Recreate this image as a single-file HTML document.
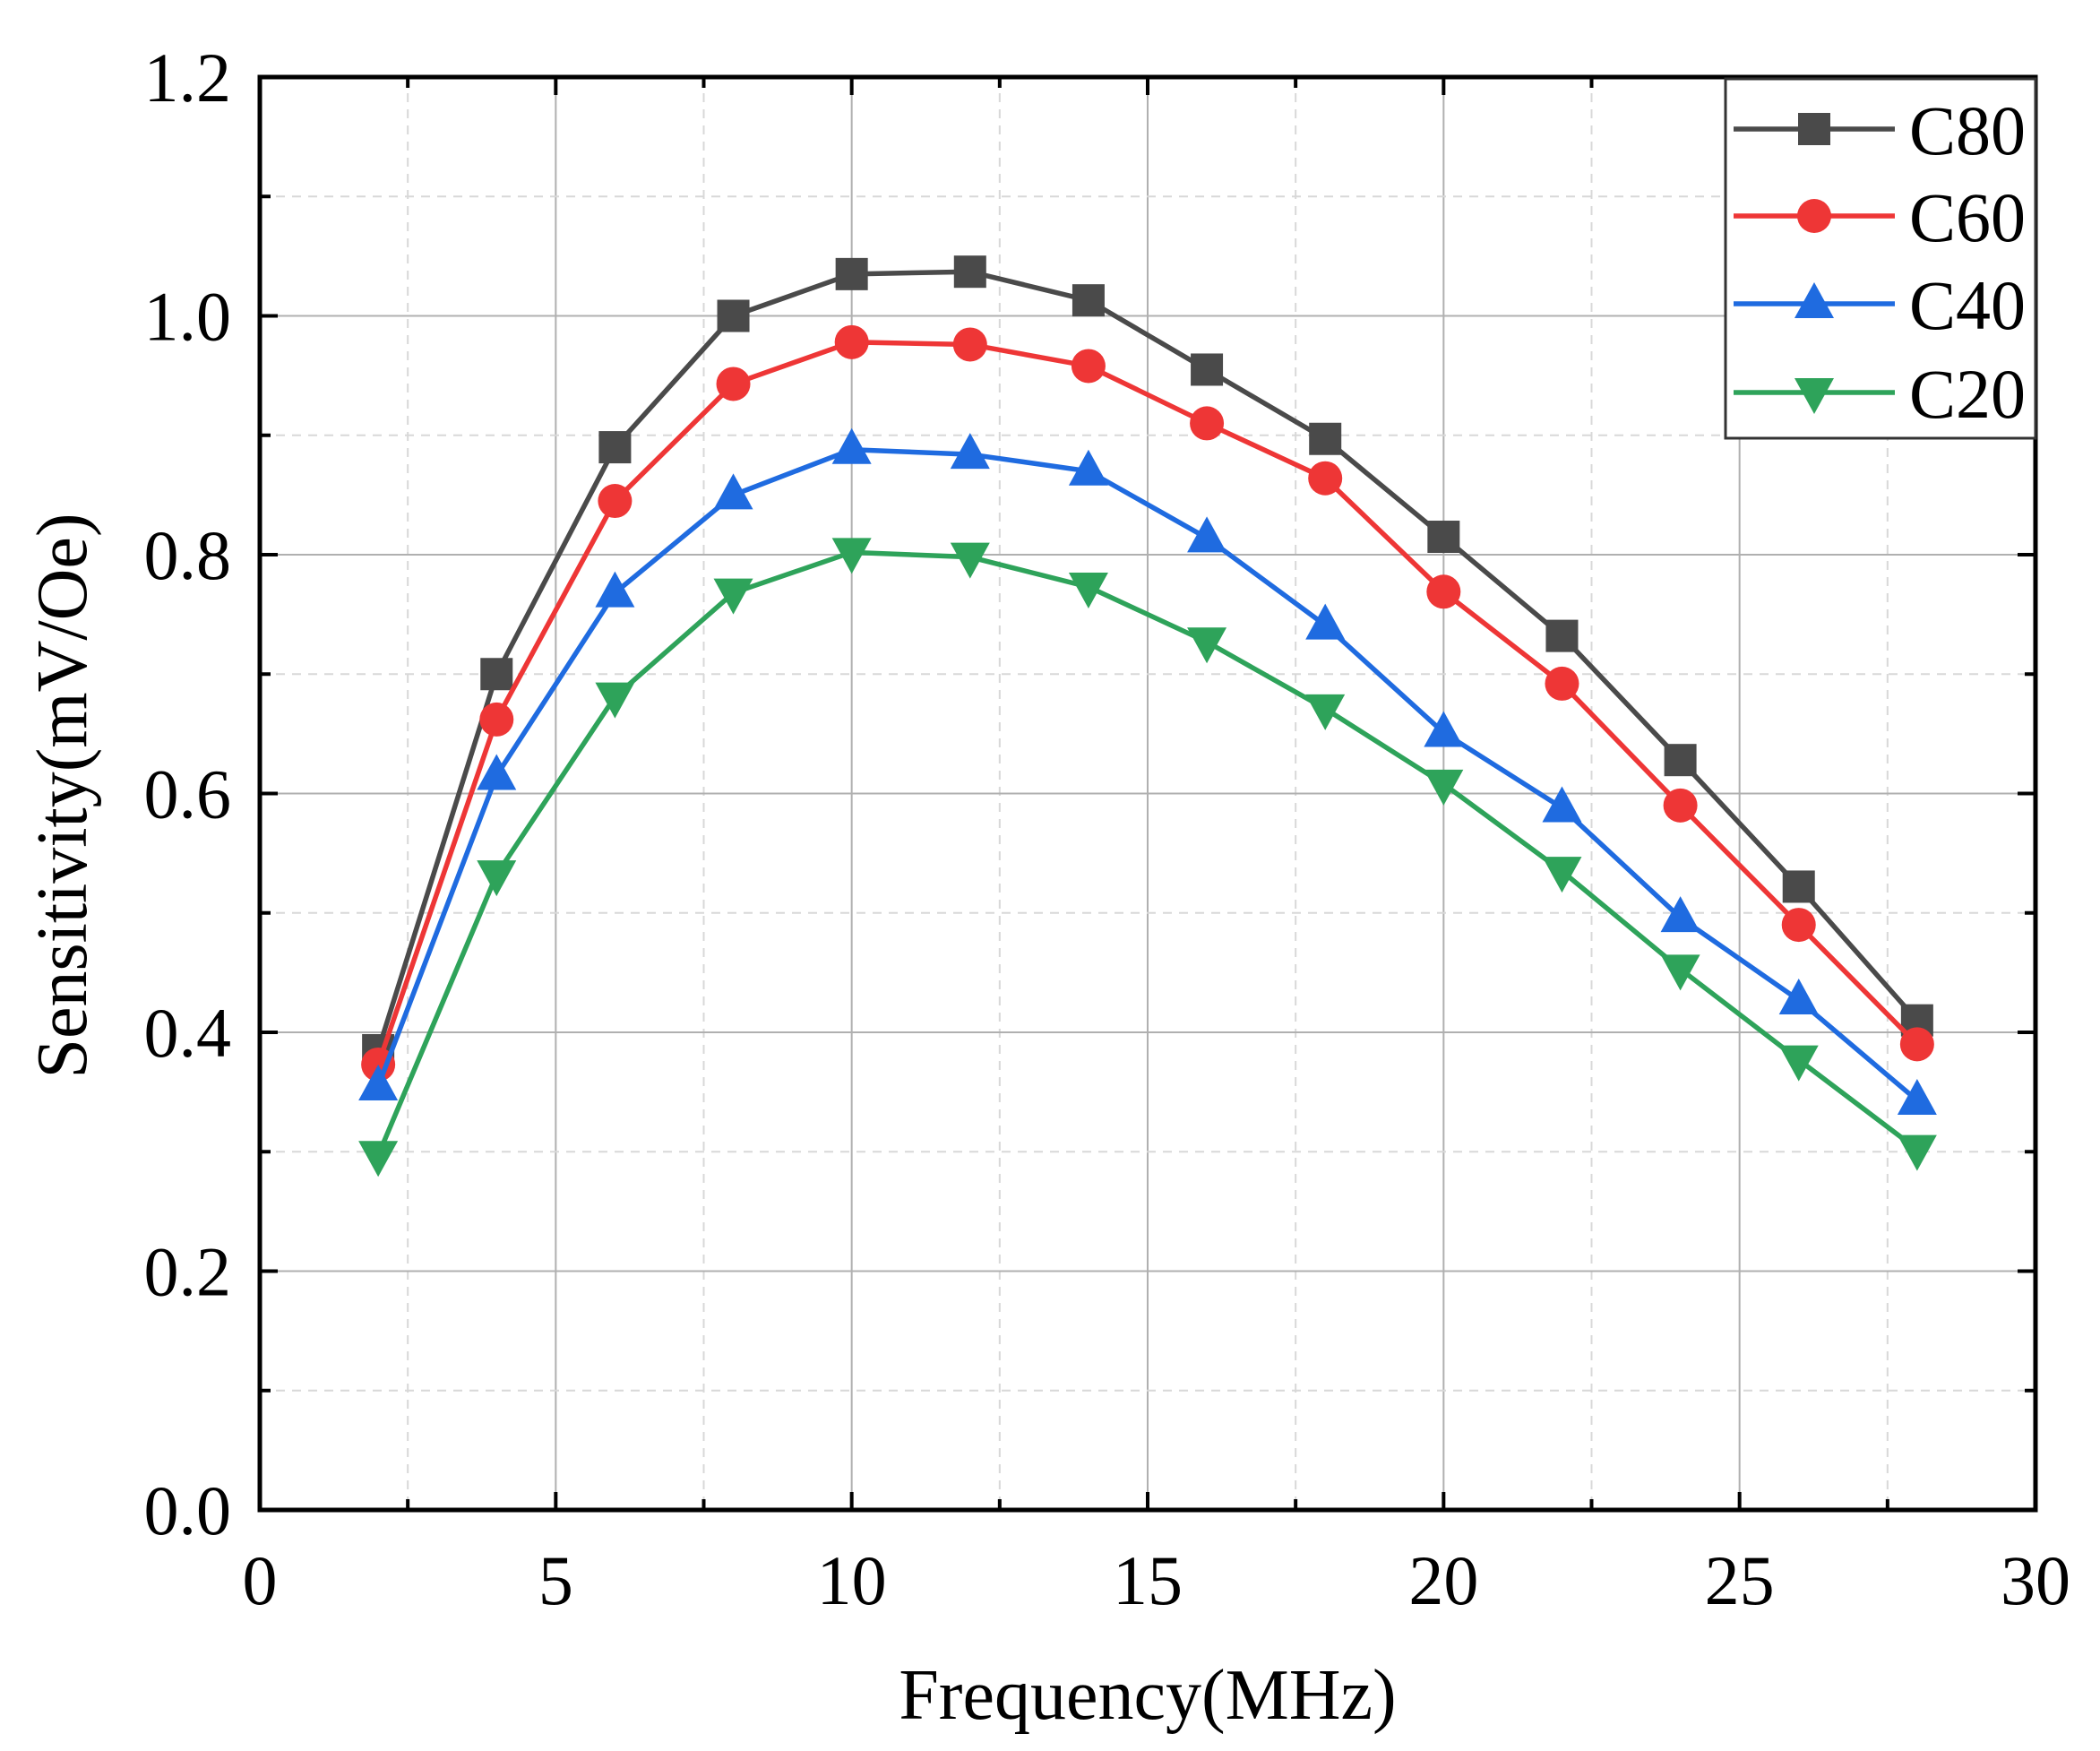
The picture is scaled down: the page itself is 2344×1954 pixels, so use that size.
<!DOCTYPE html>
<html><head><meta charset="utf-8"><style>
html,body{margin:0;padding:0;background:#fff;}
svg{display:block;font-family:"Liberation Serif",serif;}
</style></head><body>
<svg id="chart" width="2344" height="1954" viewBox="0 0 2344 1954" xmlns="http://www.w3.org/2000/svg">
<g id="grid"></g>
<g id="series"></g>
<g id="axes"></g>
<text x="1281" y="1918" font-size="80" text-anchor="middle">Frequency(MHz)</text>
<text transform="translate(96,888) rotate(-90)" font-size="80" text-anchor="middle">Sensitivity(mV/Oe)</text>
<g id="legend"></g>
</svg>
<script>
const freqs = [2,4,6,8,10,12,14,16,18,20,22,24,26,28];
const c80 = [0.385,0.700,0.890,1.000,1.035,1.037,1.013,0.955,0.897,0.815,0.732,0.628,0.522,0.410];
const c60 = [0.373,0.662,0.845,0.943,0.978,0.976,0.958,0.910,0.864,0.769,0.692,0.590,0.490,0.390];
const c40 = [0.355,0.615,0.768,0.850,0.888,0.884,0.870,0.814,0.741,0.651,0.588,0.496,0.427,0.343];
const c20 = [0.297,0.532,0.681,0.768,0.802,0.798,0.773,0.727,0.671,0.608,0.535,0.453,0.377,0.302];
const seriesNames = ["C80","C60","C40","C20"];
const xTicks = [0,5,10,15,20,25,30];
const yTicks = [0.0,0.2,0.4,0.6,0.8,1.0,1.2];

const NS="http://www.w3.org/2000/svg";
const L=290,R=2272,T=86,B=1685;
const X=v=>L+(v-0)/(30-0)*(R-L);
const Y=v=>B-(v-0)/(1.2-0)*(B-T);
function mk(tag,attrs,parent){const e=document.createElementNS(NS,tag);for(const k in attrs)e.setAttribute(k,attrs[k]);parent.appendChild(e);return e;}
const grid=document.getElementById('grid'),axes=document.getElementById('axes'),ser=document.getElementById('series'),leg=document.getElementById('legend');

for(let v=2.5;v<30;v+=2.5){const major=Math.abs(v%5)<1e-9;
 const g=mk('line',{x1:X(v),x2:X(v),y1:T,y2:B,stroke:major?'#b0b0b0':'#d8d8d8','stroke-width':2,'stroke-dasharray':major?'':'10,8'},grid);
 
 }
for(let k=1;k<12;k++){const v=k/10,major=k%2===0;
 const g=mk('line',{x1:L,x2:R,y1:Y(v),y2:Y(v),stroke:major?'#b0b0b0':'#d8d8d8','stroke-width':2,'stroke-dasharray':major?'':'10,8'},grid);
 
 }

const cols=['#4a4a4a','#ee3636','#1f6be0','#2ea35a'];
const data=[c80,c60,c40,c20];
function marker(i,cx,cy,p,name){let e;
 if(i===0)e=mk('rect',{x:cx-18,y:cy-18,width:36,height:36,fill:cols[i]},p);
 else if(i===1)e=mk('circle',{cx:cx,cy:cy,r:19,fill:cols[i]},p);
 else if(i===2)e=mk('polygon',{points:`${cx},${cy-24} ${cx-22},${cy+16} ${cx+22},${cy+16}`,fill:cols[i]},p);
 else e=mk('polygon',{points:`${cx},${cy+24} ${cx-22},${cy-16} ${cx+22},${cy-16}`,fill:cols[i]},p);
 
 }
data.forEach((d,i)=>{
 const g=mk('g',{},ser);
 
 
 const pl=mk('polyline',{points:d.map((v,j)=>X(freqs[j])+','+Y(v)).join(' '),fill:'none',stroke:cols[i],'stroke-width':5.5},g);
 
 
 d.forEach((v,j)=>marker(i,X(freqs[j]),Y(v),g,'point-'+seriesNames[i].toLowerCase()));
});

const fr=mk('rect',{x:L,y:T,width:R-L,height:B-T,fill:'none',stroke:'#000','stroke-width':5},axes);


for(let v=0;v<=30;v+=2.5){const major=Math.abs(v%5)<1e-9,len=major?20:12;
 mk('line',{x1:X(v),x2:X(v),y1:B,y2:B-len,stroke:'#000','stroke-width':4},axes);
 mk('line',{x1:X(v),x2:X(v),y1:T,y2:T+len,stroke:'#000','stroke-width':4},axes);}
for(let k=0;k<=12;k++){const v=k/10,major=k%2===0,len=major?20:12;
 mk('line',{x1:L,x2:L+len,y1:Y(v),y2:Y(v),stroke:'#000','stroke-width':4},axes);
 mk('line',{x1:R,x2:R-len,y1:Y(v),y2:Y(v),stroke:'#000','stroke-width':4},axes);}
xTicks.forEach(v=>{const t=mk('text',{x:X(v),y:1790,'font-size':78,'text-anchor':'middle'},axes);t.textContent=v;
 
 });
yTicks.forEach(v=>{const t=mk('text',{x:258,y:Y(v)+27,'font-size':78,'text-anchor':'end'},axes);t.textContent=v.toFixed(1);
 
 });

const lb=mk('rect',{x:1926,y:88,width:346,height:401,fill:'#fff',stroke:'#333','stroke-width':3},leg);


const ly=[144,241,339,438];
seriesNames.forEach((n,i)=>{
 const g=mk('g',{},leg);
 
 
 mk('line',{x1:1935,x2:2115,y1:ly[i],y2:ly[i],stroke:cols[i],'stroke-width':5.5},g);
 marker(i,2025,ly[i],g,'legend-marker');
 const t=mk('text',{x:2131,y:ly[i]+28,'font-size':78},g);t.textContent=n;
 
 
});
</script>
</body></html>
